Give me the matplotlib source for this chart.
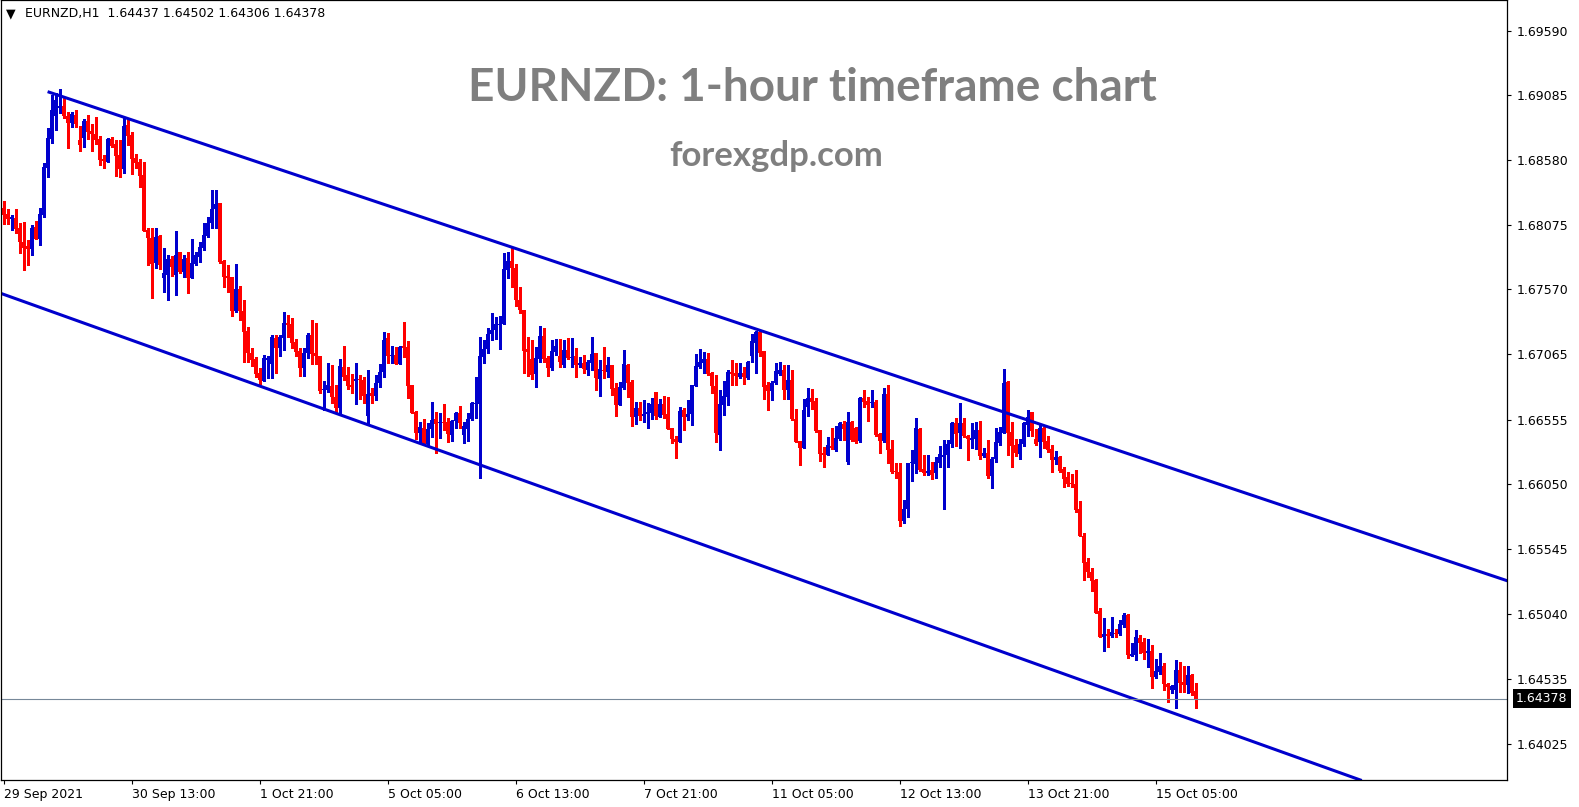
import numpy as np
import matplotlib.pyplot as plt
from matplotlib.transforms import blended_transform_factory

# EURNZD H1 candles, 29 Sep 05:00 .. 15 Oct 07:00 (one entry per hourly bar)
opens = [
    1.68203, 1.68156, 1.68122, 1.68125, 1.68050, 1.67940, 1.67909, 1.67888, 1.68057, 1.67966,
    1.68154, 1.68520, 1.68746, 1.68926, 1.68988, 1.69001, 1.68923, 1.68871, 1.68934, 1.68736,
    1.68754, 1.68884, 1.68806, 1.68783, 1.68744, 1.68588, 1.68567, 1.68741, 1.68702, 1.68619,
    1.68510, 1.68853, 1.68775, 1.68596, 1.68564, 1.68463, 1.68037, 1.67972, 1.67774, 1.67990,
    1.67662, 1.67683, 1.67808, 1.67683, 1.67860, 1.67709, 1.67813, 1.67662, 1.67769, 1.67826,
    1.67891, 1.67987, 1.68091, 1.68195, 1.68247, 1.67795, 1.67675, 1.67667, 1.67405, 1.67574,
    1.67402, 1.67246, 1.67072, 1.67028, 1.66916, 1.66859, 1.67020, 1.66989, 1.67194, 1.67111,
    1.67194, 1.67306, 1.67301, 1.67160, 1.67090, 1.66960, 1.67072, 1.67215, 1.67072, 1.67051,
    1.66789, 1.66786, 1.66820, 1.66734, 1.66648, 1.66968, 1.66903, 1.66825, 1.66859, 1.66872,
    1.66864, 1.66586, 1.66760, 1.66739, 1.66843, 1.66926, 1.67189, 1.67051, 1.67059, 1.66989,
    1.67132, 1.67124, 1.66828, 1.66617, 1.66453, 1.66487, 1.66365, 1.66482, 1.66557, 1.66529,
    1.66534, 1.66534, 1.66438, 1.66542, 1.66607, 1.66438, 1.66484, 1.66560, 1.66679, 1.66679,
    1.67046, 1.67106, 1.67223, 1.67254, 1.67293, 1.67298, 1.67722, 1.67792, 1.67740, 1.67488,
    1.67410, 1.67106, 1.67028, 1.66908, 1.67028, 1.67207, 1.67033, 1.66955, 1.67085, 1.67051,
    1.66981, 1.67098, 1.67038, 1.67051, 1.66981, 1.66999, 1.66942, 1.66999, 1.67072, 1.66872,
    1.66942, 1.66929, 1.66981, 1.66799, 1.66669, 1.66799, 1.66981, 1.66851, 1.66578, 1.66643,
    1.66583, 1.66599, 1.66609, 1.66773, 1.66578, 1.66677, 1.66599, 1.66492, 1.66404, 1.66383,
    1.66630, 1.66578, 1.66596, 1.66820, 1.66968, 1.66994, 1.67028, 1.66916, 1.66820, 1.66435,
    1.66669, 1.66734, 1.66929, 1.66916, 1.66885, 1.66916, 1.66877, 1.67054, 1.67155, 1.67241,
    1.67090, 1.66825, 1.66781, 1.66838, 1.66911, 1.66942, 1.66786, 1.66864, 1.66557, 1.66391,
    1.66331, 1.66651, 1.66726, 1.66700, 1.66474, 1.66292, 1.66279, 1.66349, 1.66318, 1.66404,
    1.66521, 1.66227, 1.66539, 1.66487, 1.66388, 1.66726, 1.66700, 1.66682, 1.66690, 1.66443,
    1.66391, 1.66755, 1.66323, 1.66154, 1.66144, 1.65764, 1.65855, 1.66214, 1.66209, 1.66482,
    1.66170, 1.66136, 1.66162, 1.66136, 1.66219, 1.66266, 1.66279, 1.66365, 1.66526, 1.66448,
    1.66526, 1.66427, 1.66396, 1.66404, 1.66474, 1.66271, 1.66292, 1.66115, 1.66245, 1.66375,
    1.66453, 1.66851, 1.66461, 1.66357, 1.66287, 1.66365, 1.66513, 1.66612, 1.66404, 1.66383,
    1.66487, 1.66388, 1.66323, 1.66240, 1.66266, 1.66167, 1.66105, 1.66061, 1.66053, 1.65858,
    1.65650, 1.65447, 1.65369, 1.65304, 1.65062, 1.64862, 1.64883, 1.64867, 1.64893, 1.64883,
    1.64953, 1.65031, 1.64714, 1.64719, 1.64854, 1.64823, 1.64732, 1.64750, 1.64550, 1.64589,
    1.64633, 1.64493, 1.64446, 1.64446, 1.64602, 1.64511, 1.64485, 1.64563, 1.64437,
]
highs = [
    1.68260, 1.68195, 1.68151, 1.68198, 1.68091, 1.68094, 1.67956, 1.68073, 1.68107, 1.68203,
    1.68554, 1.68827, 1.69087, 1.69100, 1.69134, 1.69061, 1.68957, 1.68952, 1.68970, 1.68848,
    1.68897, 1.68931, 1.68858, 1.68918, 1.68767, 1.68619, 1.68754, 1.68762, 1.68736, 1.68736,
    1.68918, 1.68910, 1.68796, 1.68627, 1.68585, 1.68562, 1.68047, 1.68050, 1.68047, 1.67995,
    1.67891, 1.67839, 1.67831, 1.68029, 1.67865, 1.67839, 1.67865, 1.67961, 1.67865, 1.67943,
    1.68086, 1.68138, 1.68346, 1.68346, 1.68247, 1.67800, 1.67761, 1.67667, 1.67769, 1.67597,
    1.67488, 1.67280, 1.67111, 1.67046, 1.66955, 1.67059, 1.67051, 1.67215, 1.67215, 1.67215,
    1.67392, 1.67371, 1.67345, 1.67181, 1.67111, 1.67111, 1.67228, 1.67332, 1.67306, 1.67051,
    1.66856, 1.66994, 1.66981, 1.66825, 1.67028, 1.67132, 1.66968, 1.66908, 1.67000, 1.66903,
    1.66890, 1.66942, 1.66799, 1.66903, 1.66986, 1.67236, 1.67228, 1.67132, 1.67124, 1.67129,
    1.67319, 1.67168, 1.66828, 1.66622, 1.66539, 1.66557, 1.66526, 1.66690, 1.66617, 1.66604,
    1.66677, 1.66570, 1.66552, 1.66617, 1.66664, 1.66534, 1.66609, 1.66695, 1.66890, 1.67202,
    1.67176, 1.67267, 1.67384, 1.67353, 1.67363, 1.67857, 1.67865, 1.67891, 1.67769, 1.67587,
    1.67410, 1.67197, 1.67176, 1.67124, 1.67288, 1.67267, 1.67051, 1.67176, 1.67184, 1.67181,
    1.67176, 1.67189, 1.67189, 1.67111, 1.67041, 1.67059, 1.67020, 1.67197, 1.67077, 1.67020,
    1.67119, 1.67046, 1.66981, 1.66843, 1.66851, 1.67098, 1.66986, 1.66864, 1.66695, 1.66695,
    1.66708, 1.66687, 1.66721, 1.66773, 1.66713, 1.66739, 1.66734, 1.66492, 1.66427, 1.66656,
    1.66643, 1.66708, 1.66825, 1.67064, 1.67106, 1.67080, 1.67072, 1.66929, 1.66903, 1.66786,
    1.66859, 1.66942, 1.67020, 1.66994, 1.66999, 1.66968, 1.67012, 1.67220, 1.67249, 1.67254,
    1.67090, 1.66851, 1.66856, 1.66994, 1.67002, 1.66981, 1.66981, 1.66942, 1.66635, 1.66391,
    1.66716, 1.66799, 1.66794, 1.66721, 1.66474, 1.66339, 1.66417, 1.66487, 1.66505, 1.66539,
    1.66544, 1.66617, 1.66547, 1.66500, 1.66734, 1.66786, 1.66734, 1.66786, 1.66708, 1.66448,
    1.66799, 1.66825, 1.66396, 1.66214, 1.66214, 1.65928, 1.66214, 1.66318, 1.66565, 1.66487,
    1.66279, 1.66279, 1.66227, 1.66261, 1.66349, 1.66396, 1.66396, 1.66539, 1.66565, 1.66682,
    1.66565, 1.66435, 1.66526, 1.66539, 1.66547, 1.66331, 1.66396, 1.66266, 1.66487, 1.66500,
    1.66947, 1.66859, 1.66539, 1.66404, 1.66404, 1.66539, 1.66630, 1.66617, 1.66479, 1.66513,
    1.66500, 1.66427, 1.66357, 1.66310, 1.66271, 1.66183, 1.66149, 1.66131, 1.66162, 1.65923,
    1.65668, 1.65473, 1.65395, 1.65312, 1.65088, 1.65005, 1.64919, 1.65018, 1.64919, 1.64992,
    1.65044, 1.65039, 1.64815, 1.64914, 1.64875, 1.64849, 1.64841, 1.64797, 1.64688, 1.64732,
    1.64654, 1.64498, 1.64485, 1.64680, 1.64667, 1.64633, 1.64633, 1.64571, 1.64502,
]
lows = [
    1.68081, 1.68081, 1.68034, 1.68008, 1.67857, 1.67722, 1.67761, 1.67839, 1.67966, 1.67920,
    1.68138, 1.68450, 1.68710, 1.68814, 1.68944, 1.68910, 1.68676, 1.68840, 1.68840, 1.68650,
    1.68684, 1.68741, 1.68653, 1.68702, 1.68541, 1.68520, 1.68567, 1.68684, 1.68458, 1.68450,
    1.68481, 1.68697, 1.68471, 1.68520, 1.68372, 1.68029, 1.67761, 1.67501, 1.67735, 1.67727,
    1.67553, 1.67488, 1.67673, 1.67527, 1.67701, 1.67670, 1.67545, 1.67662, 1.67761, 1.67787,
    1.67878, 1.67977, 1.68047, 1.68052, 1.67774, 1.67592, 1.67553, 1.67366, 1.67397, 1.67332,
    1.67007, 1.67007, 1.66976, 1.66890, 1.66833, 1.66859, 1.66877, 1.66877, 1.66916, 1.67054,
    1.67098, 1.67202, 1.67111, 1.67051, 1.66895, 1.66895, 1.67038, 1.66989, 1.66989, 1.66760,
    1.66630, 1.66768, 1.66687, 1.66617, 1.66604, 1.66864, 1.66794, 1.66760, 1.66674, 1.66716,
    1.66687, 1.66513, 1.66687, 1.66708, 1.66812, 1.66890, 1.66994, 1.67000, 1.66989, 1.66989,
    1.67046, 1.66726, 1.66609, 1.66401, 1.66370, 1.66357, 1.66349, 1.66422, 1.66297, 1.66409,
    1.66474, 1.66378, 1.66391, 1.66487, 1.66487, 1.66370, 1.66391, 1.66552, 1.66570, 1.66097,
    1.66994, 1.67077, 1.67176, 1.67181, 1.67103, 1.67298, 1.67657, 1.67592, 1.67441, 1.67384,
    1.66921, 1.66898, 1.66872, 1.66807, 1.67002, 1.67007, 1.66898, 1.66942, 1.67059, 1.66968,
    1.66968, 1.67025, 1.66968, 1.66890, 1.66968, 1.66921, 1.66903, 1.66942, 1.66786, 1.66742,
    1.66877, 1.66885, 1.66747, 1.66583, 1.66669, 1.66791, 1.66734, 1.66505, 1.66521, 1.66552,
    1.66539, 1.66492, 1.66560, 1.66557, 1.66573, 1.66565, 1.66482, 1.66375, 1.66253, 1.66383,
    1.66474, 1.66552, 1.66510, 1.66817, 1.66955, 1.66916, 1.66903, 1.66760, 1.66383, 1.66318,
    1.66591, 1.66669, 1.66825, 1.66825, 1.66877, 1.66830, 1.66872, 1.67007, 1.66921, 1.67054,
    1.66716, 1.66630, 1.66708, 1.66833, 1.66903, 1.66716, 1.66716, 1.66552, 1.66383, 1.66201,
    1.66331, 1.66583, 1.66635, 1.66461, 1.66235, 1.66188, 1.66279, 1.66323, 1.66313, 1.66396,
    1.66396, 1.66209, 1.66391, 1.66375, 1.66383, 1.66656, 1.66544, 1.66651, 1.66427, 1.66292,
    1.66383, 1.66214, 1.66136, 1.66097, 1.65725, 1.65746, 1.65793, 1.66079, 1.66136, 1.66157,
    1.66123, 1.66123, 1.66092, 1.66097, 1.66188, 1.65858, 1.66188, 1.66339, 1.66349, 1.66331,
    1.66417, 1.66240, 1.66331, 1.66323, 1.66245, 1.66266, 1.66097, 1.66024, 1.66227, 1.66357,
    1.66448, 1.66279, 1.66183, 1.66274, 1.66245, 1.66349, 1.66427, 1.66427, 1.66357, 1.66261,
    1.66331, 1.66305, 1.66149, 1.66209, 1.66149, 1.66032, 1.66040, 1.66032, 1.65837, 1.65650,
    1.65304, 1.65330, 1.65218, 1.65044, 1.64857, 1.64753, 1.64784, 1.64862, 1.64862, 1.64875,
    1.64935, 1.64698, 1.64714, 1.64680, 1.64732, 1.64688, 1.64628, 1.64459, 1.64537, 1.64571,
    1.64446, 1.64355, 1.64420, 1.64303, 1.64433, 1.64433, 1.64425, 1.64407, 1.64306,
]
closes = [
    1.68151, 1.68122, 1.68133, 1.68044, 1.67940, 1.67896, 1.67888, 1.68047, 1.67966, 1.68159,
    1.68523, 1.68752, 1.68970, 1.69048, 1.69004, 1.68926, 1.68871, 1.68939, 1.68863, 1.68697,
    1.68884, 1.68801, 1.68785, 1.68736, 1.68580, 1.68572, 1.68744, 1.68692, 1.68611, 1.68510,
    1.68848, 1.68770, 1.68588, 1.68559, 1.68455, 1.68029, 1.67969, 1.67769, 1.67979, 1.67761,
    1.67699, 1.67808, 1.67748, 1.67839, 1.67709, 1.67808, 1.67662, 1.67779, 1.67839, 1.67904,
    1.67995, 1.68091, 1.68198, 1.68237, 1.67787, 1.67670, 1.67660, 1.67405, 1.67574, 1.67405,
    1.67241, 1.67072, 1.67020, 1.66911, 1.66864, 1.67033, 1.67033, 1.67202, 1.67116, 1.67202,
    1.67306, 1.67293, 1.67155, 1.67085, 1.66960, 1.67072, 1.67215, 1.67067, 1.67054, 1.66781,
    1.66794, 1.66825, 1.66734, 1.66648, 1.66973, 1.66890, 1.66820, 1.66812, 1.66872, 1.66864,
    1.66739, 1.66755, 1.66739, 1.66843, 1.66926, 1.67176, 1.67051, 1.67059, 1.66989, 1.67124,
    1.67116, 1.66820, 1.66609, 1.66453, 1.66497, 1.66365, 1.66482, 1.66552, 1.66521, 1.66534,
    1.66526, 1.66443, 1.66547, 1.66609, 1.66526, 1.66505, 1.66557, 1.66687, 1.66684, 1.67051,
    1.67106, 1.67223, 1.67254, 1.67301, 1.67298, 1.67730, 1.67790, 1.67740, 1.67488, 1.67410,
    1.67093, 1.67085, 1.66903, 1.67033, 1.67207, 1.67028, 1.66955, 1.67090, 1.67129, 1.67007,
    1.67098, 1.67038, 1.67046, 1.66981, 1.66999, 1.66947, 1.67004, 1.67067, 1.66877, 1.66947,
    1.66932, 1.66981, 1.66794, 1.66669, 1.66812, 1.66989, 1.66843, 1.66578, 1.66643, 1.66583,
    1.66599, 1.66617, 1.66677, 1.66583, 1.66677, 1.66591, 1.66482, 1.66404, 1.66383, 1.66625,
    1.66578, 1.66599, 1.66825, 1.66973, 1.67002, 1.67028, 1.66911, 1.66817, 1.66448, 1.66677,
    1.66739, 1.66929, 1.66911, 1.66895, 1.66921, 1.66890, 1.67002, 1.67168, 1.67241, 1.67077,
    1.66812, 1.66781, 1.66843, 1.66937, 1.66942, 1.66786, 1.66864, 1.66557, 1.66383, 1.66336,
    1.66630, 1.66726, 1.66695, 1.66466, 1.66287, 1.66279, 1.66357, 1.66336, 1.66409, 1.66526,
    1.66482, 1.66534, 1.66396, 1.66383, 1.66726, 1.66695, 1.66669, 1.66695, 1.66435, 1.66391,
    1.66755, 1.66318, 1.66149, 1.66149, 1.65764, 1.65855, 1.66214, 1.66227, 1.66487, 1.66162,
    1.66136, 1.66154, 1.66123, 1.66227, 1.66287, 1.66279, 1.66365, 1.66526, 1.66443, 1.66526,
    1.66427, 1.66401, 1.66414, 1.66474, 1.66271, 1.66292, 1.66115, 1.66245, 1.66383, 1.66461,
    1.66843, 1.66453, 1.66349, 1.66297, 1.66365, 1.66526, 1.66578, 1.66469, 1.66365, 1.66487,
    1.66383, 1.66318, 1.66240, 1.66266, 1.66157, 1.66092, 1.66053, 1.66053, 1.65850, 1.65650,
    1.65439, 1.65364, 1.65299, 1.65049, 1.64862, 1.64883, 1.64867, 1.64901, 1.64883, 1.64958,
    1.65031, 1.64719, 1.64724, 1.64862, 1.64815, 1.64732, 1.64750, 1.64550, 1.64594, 1.64633,
    1.64493, 1.64472, 1.64477, 1.64602, 1.64503, 1.64485, 1.64563, 1.64420, 1.64378,
]

# date labels every 32 bars
date_labels = ['29 Sep 2021', '30 Sep 13:00', '1 Oct 21:00', '5 Oct 05:00', '6 Oct 13:00',
               '7 Oct 21:00', '11 Oct 05:00', '12 Oct 13:00', '13 Oct 21:00', '15 Oct 05:00']
price_ticks = [1.69590, 1.69085, 1.68580, 1.68075, 1.67570, 1.67065, 1.66555,
               1.66050, 1.65545, 1.65040, 1.64535, 1.64025]

# hand-drawn channel (bar index, price)
upper_line = ([11, 380], [1.69113, 1.65255])
lower_line = ([0, 337], [1.67532, 1.63768])

BULL = '#0000CD'
BEAR = '#FF0000'

o = np.array(opens); h = np.array(highs); l = np.array(lows); c = np.array(closes)
n = len(c)
assert len(o) == len(h) == len(l) == n
x = np.arange(n)
cols = np.where(c >= o, BULL, BEAR)

fig = plt.figure(figsize=(15.79, 8.07), dpi=100)
ax = fig.add_axes([1 / 1579, 27 / 807, 1506.3 / 1579, 780 / 807])
ax.set_xlim(-0.65, 375.9)
ax.set_ylim(1.637439, 1.698279)

px = 7.8e-5  # price per pixel
ax.vlines(x, l, h, colors=cols, linewidth=0.75, antialiased=False)
body = np.maximum(np.abs(c - o), 0.8 * px)
ax.bar(x, body, bottom=np.minimum(o, c), width=0.8, color=cols,
       linewidth=0, antialiased=False)

ax.plot(upper_line[0], upper_line[1], color=BULL, lw=2.2, solid_capstyle='butt')
ax.axline((lower_line[0][0], lower_line[1][0]), (lower_line[0][1], lower_line[1][1]),
          color=BULL, lw=2.2)

# bid line
ax.axhline(c[-1], color='#778899', lw=0.8)

for s in ax.spines.values():
    s.set_linewidth(0.9)
    s.set_color('black')

ax.yaxis.tick_right()
ax.set_yticks(price_ticks)
ax.set_yticklabels([f'{p:.5f}' for p in price_ticks])
ax.tick_params(axis='y', direction='out', length=3, width=0.8, pad=4, labelsize=9)
ax.set_xticks(np.arange(len(date_labels)) * 32)
ax.set_xticklabels(date_labels, ha='left')
ax.tick_params(axis='x', direction='out', length=3, width=0.8, pad=2.5, labelsize=9)

tr = blended_transform_factory(ax.transAxes, ax.transData)
ax.text(1.0057, c[-1], f'{c[-1]:.5f}', transform=tr, color='white', fontsize=9,
        ha='left', va='center',
        bbox=dict(facecolor='black', edgecolor='none', boxstyle='square,pad=0.25'))

fig.text(6 / 1579, 1 - 14 / 807, '\u25bc', fontsize=9, va='center', ha='left')
fig.text(25 / 1579, 1 - 14 / 807,
         f'EURNZD,H1  {o[-1]:.5f} {h[-1]:.5f} {l[-1]:.5f} {c[-1]:.5f}',
         fontsize=9, va='center', ha='left')

fig.text(812 / 1579, 1 - 88 / 807, 'EURNZD: 1-hour timeframe chart', fontsize=33,
         family='Lato', weight='bold', color='#7f7f7f', ha='center', va='center')
fig.text(776 / 1579, 1 - 156 / 807, 'forexgdp.com', fontsize=25,
         family='Lato', weight='bold', color='#7f7f7f', ha='center', va='center')

fig.savefig('out.png', dpi=100)
